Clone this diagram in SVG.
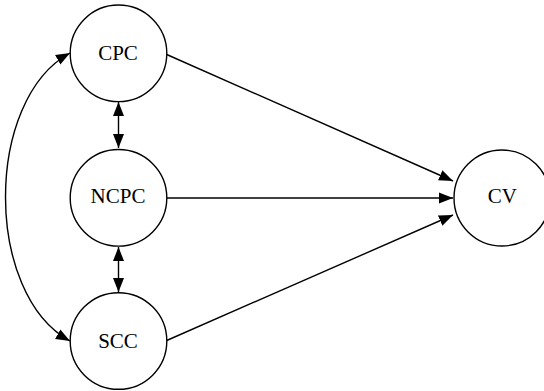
<svg xmlns="http://www.w3.org/2000/svg" width="544" height="391" viewBox="0 0 544 391">
<style>
.node circle{fill:#fff;stroke:#000;stroke-width:1.4}
.node text{font-family:"Liberation Serif","Times New Roman",serif;font-size:21px;fill:#000;text-anchor:middle}
.edges path{fill:none;stroke:#000;stroke-width:1.4}
</style>
<defs>
<marker id="ah" markerUnits="userSpaceOnUse" markerWidth="15" markerHeight="12" viewBox="0 0 15 12" refX="14" refY="6" orient="auto-start-reverse">
<path d="M0,0.5 L14,6 L0,11.5 Z" fill="#000"/>
</marker>
</defs>
<rect width="544" height="391" fill="#fff"/>
<g class="edges">
<path d="M70,53 C-16,100 -16,294 70,341" marker-start="url(#ah)" marker-end="url(#ah)"/>
<path d="M118.5,102 L118.5,148" marker-start="url(#ah)" marker-end="url(#ah)"/>
<path d="M118.5,247 L118.5,292" marker-start="url(#ah)" marker-end="url(#ah)"/>
<path d="M166.7,54.5 L453,181" marker-end="url(#ah)"/>
<path d="M167,198 L453,198" marker-end="url(#ah)"/>
<path d="M166.7,340.5 L453,215" marker-end="url(#ah)"/>
</g>
<g id="CPC" class="node"><circle cx="118.5" cy="53.3" r="48.3"/><text x="118" y="59.5">CPC</text></g>
<g id="NCPC" class="node"><circle cx="118.5" cy="197.8" r="48.3"/><text x="118" y="202.5">NCPC</text></g>
<g id="SCC" class="node"><circle cx="118.5" cy="341" r="48.3"/><text x="118" y="347.5">SCC</text></g>
<g id="CV" class="node"><circle cx="502" cy="198" r="48"/><text x="502.3" y="202.5">CV</text></g>
</svg>
